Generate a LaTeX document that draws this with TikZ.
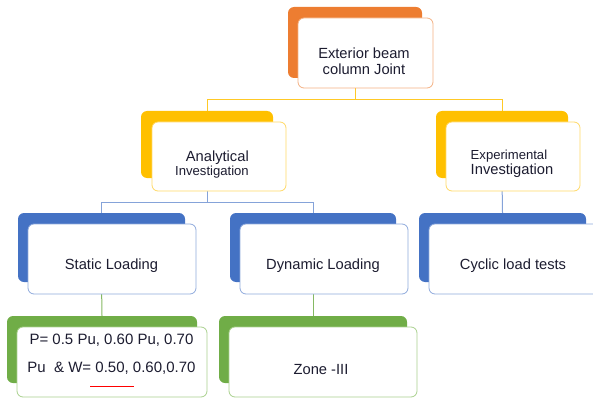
\documentclass[tikz,border=0pt]{standalone}
\usepackage{fontspec}
\setmainfont{Liberation Sans}
\usepackage{xcolor}
\usepackage{tikz}
\usetikzlibrary{backgrounds}
\definecolor{orangeback}{HTML}{ED7D31}
\definecolor{orangeline}{HTML}{F4B183}
\definecolor{goldback}{HTML}{FFC000}
\definecolor{goldline}{HTML}{FFD966}
\definecolor{blueback}{HTML}{4472C4}
\definecolor{blueline}{HTML}{8FAADC}
\definecolor{greenback}{HTML}{70AD47}
\definecolor{greenline}{HTML}{A9D18E}
\definecolor{inkblue}{HTML}{1C1C30}
\newcommand{\bigline}[1]{{\fontsize{14.7}{16}\selectfont #1}}
\newcommand{\smallline}[1]{{\fontsize{13.1}{16}\selectfont #1}}

\begin{document}
\begin{tikzpicture}[x=1pt,y=-1pt,
        back/.style={fill=#1,rounded corners=6pt,inner sep=0pt},
        front/.style={draw=#1,fill=white,rounded corners=6pt,line width=0.8pt,inner sep=0pt},
        txt/.style={text=inkblue,inner sep=0pt,font=\fontsize{14.7}{16}\selectfont},
        link/.style={line width=1pt,draw=#1}]
            \useasboundingbox (0,0) rectangle (593,398);
            % top
            \node[back=orangeback,minimum width=134pt,minimum height=71pt] (1) at (355,42.5) {};
            \node[front=orangeline,minimum width=135pt,minimum height=70pt] (2) at (365.5,53) {};
            \node[txt,align=center] (3) at (364,61) {Exterior beam\\column Joint};
            % second row
            \node[back=goldback,minimum width=132pt,minimum height=67pt] (4) at (207,144.5) {};
            \node[front=goldline,minimum width=134pt,minimum height=69pt] (5) at (219,156.5) {};
            \node[txt,align=right] (6) at (212,164.5) {\bigline{Analytical}\\[-2pt]\smallline{Investigation}};
            \node[back=goldback,minimum width=132pt,minimum height=67pt] (7) at (502,144.5) {};
            \node[front=goldline,minimum width=134pt,minimum height=69pt] (8) at (513,156.5) {};
            \node[txt,align=left] (9) at (512,164) {\smallline{Experimental}\\[-1pt]\bigline{Investigation}};
            % third row
            \node[back=blueback,minimum width=167pt,minimum height=69pt] (10) at (101.5,247.5) {};
            \node[front=blueline,minimum width=168pt,minimum height=70pt] (11) at (112,259) {};
            \node[txt] (12) at (111.5,266) {Static Loading};
            \node[back=blueback,minimum width=166pt,minimum height=69pt] (13) at (313,247.5) {};
            \node[front=blueline,minimum width=168pt,minimum height=70pt] (14) at (324,259) {};
            \node[txt] (15) at (323,266) {Dynamic Loading};
            \node[back=blueback,minimum width=167pt,minimum height=69pt] (16) at (502.5,247.5) {};
            \node[front=blueline,minimum width=176pt,minimum height=70pt] (17) at (517,259) {};
            \node[txt] (18) at (513,266) {Cyclic load tests};
            % bottom row
            \node[back=greenback,minimum width=190pt,minimum height=67pt] (19) at (102,349.5) {};
            \node[front=greenline,minimum width=190pt,minimum height=70pt] (20) at (112,362) {};
            \node[txt,align=center,font=\fontsize{15}{28}\selectfont] (21) at (111.5,354) {P= 0.5 Pu, 0.60 Pu, 0.70\\Pu~~\& W= 0.50, 0.60,0.70};
            \draw[red,line width=1pt] (90,386) -- (134,386);
            \node[back=greenback,minimum width=188pt,minimum height=67pt] (22) at (313,349.5) {};
            \node[front=greenline,minimum width=188pt,minimum height=70pt] (23) at (323,362) {};
            \node[txt] (24) at (321,369.5) {Zone -III};
            \begin{scope}[on background layer]
            \draw[link=goldback!85] (1.south) -- ++(0,21) -| (4.north);
            \draw[link=goldback!85] (1.south) -- ++(0,21) -| (7.north);
            \draw[link=blueback!65] (4.south) -- ++(0,24) -| (10.north);
            \draw[link=blueback!65] (4.south) -- ++(0,24) -| (13.north);
            \draw[link=blueback!65] (7.south) -- (16.north);
            \draw[link=greenback!85] (10.south) -- (19.north);
            \draw[link=greenback!85] (13.south) -- (22.north);
            \end{scope}
        \end{tikzpicture}
\end{document}
